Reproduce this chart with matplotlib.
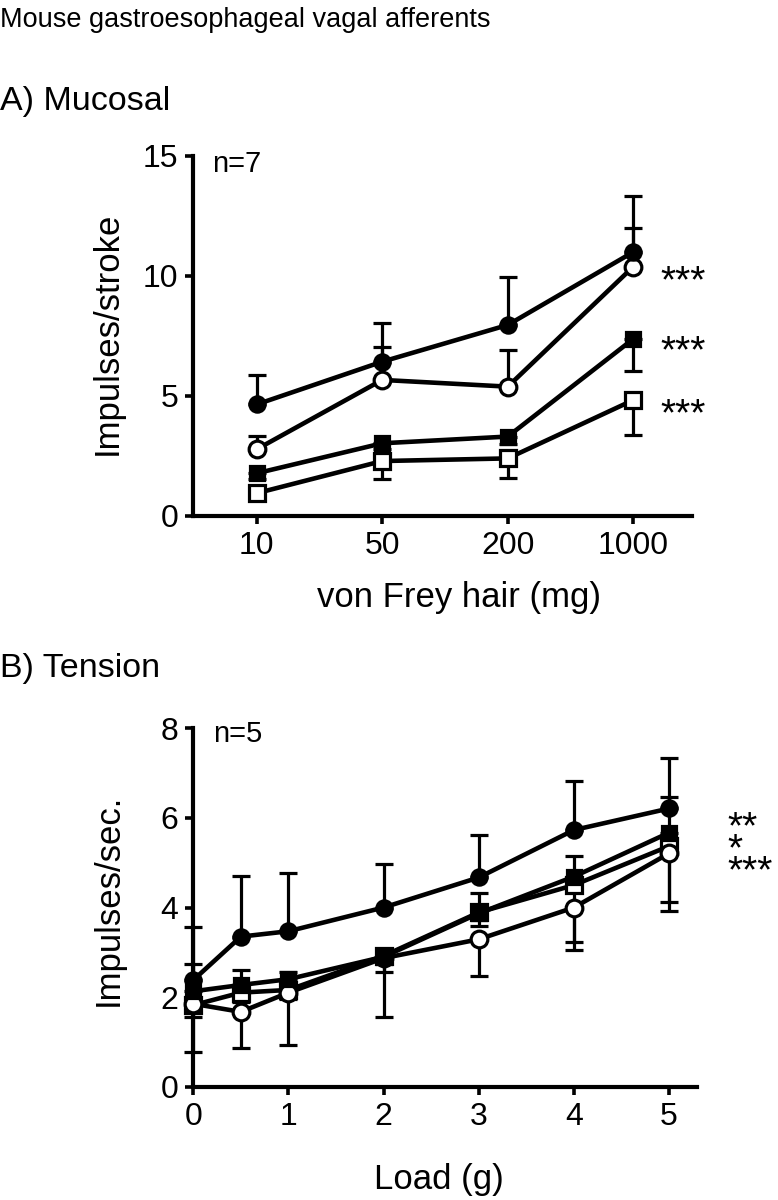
import matplotlib
matplotlib.use("Agg")
import matplotlib.pyplot as plt
import numpy as np

plt.rcParams['font.family'] = ['Liberation Sans', 'DejaVu Sans']

# ---------------- Data ----------------
# Panel A: Mucosal
vf_labels = ['10', '50', '200', '1000']
a_fc = [4.65, 6.43, 7.96, 11.0]      # filled circle
a_fc_err = [1.22, 1.62, 2.01, 2.33]  # upward SEM
a_oc = [2.78, 5.67, 5.39, 10.39]     # open circle
a_oc_err = [0.55, 1.36, 1.53, 1.61]  # upward
a_fs = [1.78, 3.03, 3.31, 7.38]      # filled square
a_fs_err = [0.25, 0.25, 0.3, 1.34]   # downward
a_os = [0.95, 2.29, 2.40, 4.83]      # open square
a_os_err = [0.2, 0.76, 0.8, 1.46]    # downward
a_yticks = [0, 5, 10, 15]

# Panel B: Tension
loads = [0, 0.5, 1, 2, 3, 4, 5]
b_fc = [2.38, 3.35, 3.47, 4.0, 4.67, 5.73, 6.21]
b_fc_err = [1.19, 1.35, 1.29, 0.97, 0.95, 1.09, 1.13]   # upward
b_fs = [2.13, 2.27, 2.40, 2.9, 3.87, 4.69, 5.67]
b_fs_err = [0.6, 0.33, 0.15, 0.1, 0.45, 0.46, 0.79]     # upward
b_oc = [1.85, 1.67, 2.1, 2.87, 3.29, 4.0, 5.21]
b_oc_err = [0.3, 0.81, 1.17, 0.3, 0.83, 0.95, 1.09]     # downward
b_os = [1.82, 2.1, 2.16, 2.92, 3.89, 4.5, 5.37]
b_os_err = [1.04, 0.2, 0.2, 1.36, 0.3, 1.26, 1.45]      # downward
b_xticks = [0, 1, 2, 3, 4, 5]
b_yticks = [0, 2, 4, 6, 8]

# ---------------- Figure ----------------
W, H = 778, 1200
fig = plt.figure(figsize=(W / 100, H / 100), dpi=100)


def fx(px):
    return px / W


def fy(py):
    return 1 - py / H


LW = 3.3
ELW = 2.3
CAP = 6.2
TICK_FS = 23
LAB_FS = 25

styles = {
    'fc': dict(marker='o', mfc='black', mec='black', ms=11),
    'oc': dict(marker='o', mfc='white', mec='black', ms=12),
    'fs': dict(marker='s', mfc='black', mec='black', ms=10.5),
    'os': dict(marker='s', mfc='white', mec='black', ms=11),
}


def draw_series(ax, x, y, err, up, key, z):
    x = np.asarray(x, float)
    y = np.asarray(y, float)
    err = np.asarray(err, float)
    zeros = np.zeros_like(err)
    yerr = [zeros, err] if up else [err, zeros]
    ax.errorbar(x, y, yerr=yerr, fmt='none', ecolor='black', elinewidth=ELW,
                capsize=CAP, capthick=ELW, zorder=z, clip_on=False)
    ax.plot(x, y, color='black', lw=LW, mew=2.3, zorder=z + 0.5,
            clip_on=False, **styles[key])


def style_axes(ax):
    for s in ['top', 'right']:
        ax.spines[s].set_visible(False)
    for s in ['left', 'bottom']:
        ax.spines[s].set_linewidth(3.0)
    ax.tick_params(direction='out', length=6, width=2.6, labelsize=TICK_FS,
                   pad=5)
    ax.patch.set_visible(False)


# Panel A
axA = fig.add_axes([fx(193.3), fy(516), (691.7 - 193.3) / W, (516 - 156) / H])
xa = np.arange(len(vf_labels))
draw_series(axA, xa, a_os, a_os_err, False, 'os', 2)
draw_series(axA, xa, a_fs, a_fs_err, False, 'fs', 3)
draw_series(axA, xa, a_oc, a_oc_err, True, 'oc', 4)
draw_series(axA, xa, a_fc, a_fc_err, True, 'fc', 5)
axA.set_xlim(-0.505, 3.465)
axA.set_ylim(0, 15)
axA.set_xticks(xa)
axA.set_xticklabels(vf_labels)
axA.set_yticks(a_yticks)
style_axes(axA)
axA.set_ylabel('Impulses/stroke', fontsize=LAB_FS, va='center', ha='center')
axA.yaxis.set_label_coords((107.5 - 193.3) / (691.7 - 193.3), (516 - 333) / 360)
axA.set_xlabel('von Frey hair (mg)', fontsize=LAB_FS, va='center', ha='center')
axA.xaxis.set_label_coords((459 - 193.3) / (691.7 - 193.3), -(598 - 516) / 360)

# Panel B
axB = fig.add_axes([fx(193.3), fy(1086.7), (696.7 - 193.3) / W, (1086.7 - 728.3) / H])
draw_series(axB, loads, b_os, b_os_err, False, 'os', 2)
draw_series(axB, loads, b_oc, b_oc_err, False, 'oc', 3)
draw_series(axB, loads, b_fs, b_fs_err, True, 'fs', 4)
draw_series(axB, loads, b_fc, b_fc_err, True, 'fc', 5)
axB.set_xlim(0, 5.29)
axB.set_ylim(0, 8)
axB.set_xticks(b_xticks)
axB.set_yticks(b_yticks)
style_axes(axB)
axB.set_ylabel('Impulses/sec.', fontsize=LAB_FS, va='center', ha='center')
axB.yaxis.set_label_coords((108.5 - 193.3) / (696.7 - 193.3), (1086.7 - 900) / (1086.7 - 728.3))
axB.set_xlabel('Load (g)', fontsize=LAB_FS, va='center', ha='center')
axB.xaxis.set_label_coords((439 - 193.3) / (696.7 - 193.3), -(1179 - 1086.7) / (1086.7 - 728.3))

# Titles and annotations
fig.text(fx(0), fy(27), 'Mouse gastroesophageal vagal afferents', fontsize=19.5,
         ha='left', va='baseline')
fig.text(fx(0), fy(110), 'A) Mucosal', fontsize=24.5, ha='left', va='baseline')
fig.text(fx(0), fy(677), 'B) Tension', fontsize=24.5, ha='left', va='baseline')
fig.text(fx(212), fy(172), 'n=7', fontsize=21, ha='left', va='baseline')
fig.text(fx(213), fy(742), 'n=5', fontsize=21, ha='left', va='baseline')

AST = 28
for yc in [270, 340, 403]:
    fig.text(fx(660), fy(yc + 22), '***', fontsize=AST, ha='left', va='baseline')
# multi-line text: va='baseline' anchors the last line
fig.text(fx(727), fy(860 + 22), '**\n*\n***', fontsize=AST, ha='left',
         va='baseline', multialignment='left', linespacing=0.5)

fig.savefig('out.png', dpi=100)
